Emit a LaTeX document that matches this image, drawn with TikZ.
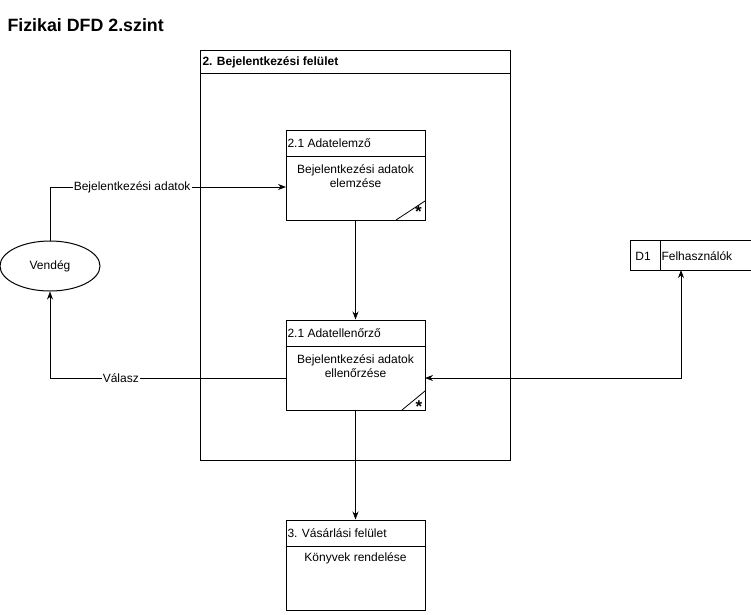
\documentclass[tikz,border=0pt]{standalone}
\usepackage{fontspec}
\setmainfont{Liberation Sans}
\usetikzlibrary{shapes.geometric,arrows.meta}
\begin{document}
\begin{tikzpicture}[x=1pt,y=-1pt,line width=1pt,
  txt/.style={font=\fontsize{12}{14}\selectfont,inner sep=0pt},
  procbox/.style={draw,minimum width=139pt,minimum height=90pt,inner sep=0pt},
  flow/.style={-{Stealth[length=8pt,width=6pt]},line width=0.8pt},
  lab/.style={txt,fill=white,inner sep=1pt},
  starmark/.style={inner sep=0pt,font=\bfseries\fontsize{17}{17}\selectfont}]
\useasboundingbox (0,0) rectangle (751,614);
\fill[white] (0,0) rectangle (751,614);
% title
\node[anchor=west,inner sep=0pt,font=\bfseries\fontsize{17.8}{20}\selectfont] (title) at (7,25) {Fizikai DFD 2.szint};
% big box
\node[draw,minimum width=310pt,minimum height=410pt,inner sep=0pt] (big) at (355,255) {};
\draw (200,73) -- (510,73);
\node[txt,anchor=west,font=\bfseries\fontsize{12}{14}\selectfont] (bigt) at (202,62) {2. Bejelentkezési felület};
% process 2.1 Adatelemzo
\node[procbox] (p1) at (355.5,175) {};
\draw (286,156) -- (425,156);
\node[txt,anchor=west] (p1t) at (287,143) {2.1 Adatelemző};
\node[txt,align=center] (p1b) at (355.5,176.5) {Bejelentkezési adatok\\elemzése};
\draw[line width=0.8pt] (396,220) -- (425,201);
\node[starmark] (p1s) at (418.5,212) {*};
% process 2.1 Adatellenorzo
\node[procbox] (p2) at (355.5,365) {};
\draw (286,346) -- (425,346);
\node[txt,anchor=west] (p2t) at (287,333) {2.1 Adatellenőrző};
\node[txt,align=center] (p2b) at (355.5,366.5) {Bejelentkezési adatok\\ellenőrzése};
\draw[line width=0.8pt] (402,410) -- (425,391);
\node[starmark] (p2s) at (419,407) {*};
% process 3
\node[procbox] (p3) at (355.5,565) {};
\draw (286,546) -- (425,546);
\node[txt,anchor=west] (p3t) at (287,533) {3. Vásárlási felület};
\node[txt] (p3b) at (355.5,558) {Könyvek rendelése};
% Vendeg
\node[draw,ellipse,minimum width=100pt,minimum height=50pt,inner sep=0pt,txt] (v) at (50,266) {Vendég};
% D1 store
\draw (751,240) -- (630,240) -- (630,270) -- (751,270);
\draw (660,240) -- (660,270);
\node[txt] (d1n) at (643,256) {D1};
\node[txt,anchor=west] (d1t) at (661,256) {Felhasználók};
\coordinate (d1) at (681,270);
\coordinate (p1in) at (286,187);
\coordinate (p2in) at (425,378);
\coordinate (p2out) at (286,378);
% flows
\draw[flow] (v.north) |- (p1in) node[lab,pos=0.674] {Bejelentkezési adatok};
\draw[flow] (p1.south) -- (p2.north);
\draw[flow,{Stealth[length=8pt,width=6pt]}-{Stealth[length=8pt,width=6pt]}] (d1) |- (p2in);
\draw[flow] (p2out) -| (v.south) node[lab,pos=0.35] {Válasz};
\draw[flow] (p2.south) -- (p3.north);
\end{tikzpicture}
\end{document}
